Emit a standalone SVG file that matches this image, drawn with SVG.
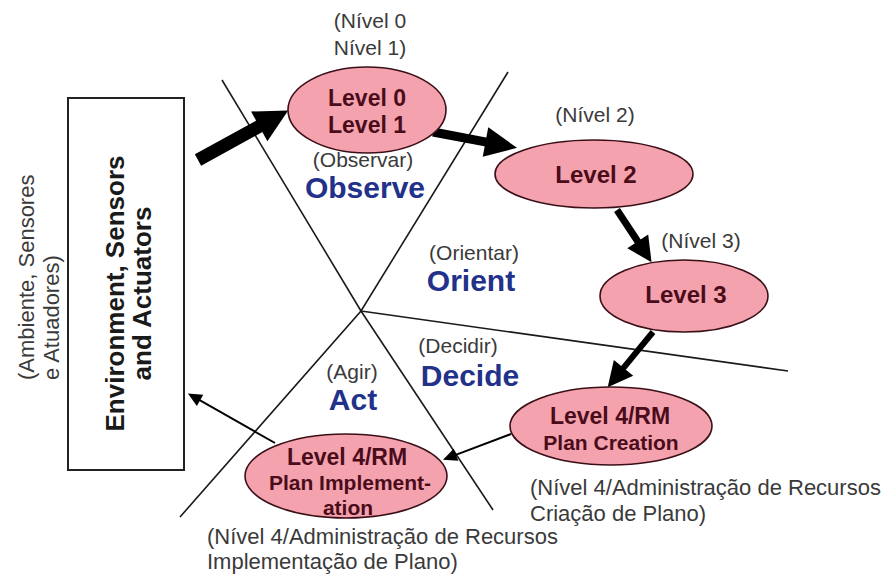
<svg xmlns="http://www.w3.org/2000/svg" width="881" height="577" viewBox="0 0 881 577">
  <style>
    .note { font-family: "Liberation Sans", Arial, sans-serif; font-size: 21px; fill: #3a3a3a; }
    .cap { font-family: "Liberation Sans", Arial, sans-serif; font-size: 22px; fill: #3a3a3a; }
    .phase { font-family: "Liberation Sans", Arial, sans-serif; font-size: 30px; font-weight: bold; fill: #22318a; }
    .node { fill: #f4a2ae; stroke: #3a0f17; stroke-width: 1.6; }
    .lbl { font-family: "Liberation Sans", Arial, sans-serif; font-weight: bold; fill: #4a0c1a; text-anchor: middle; }
    .env { font-family: "Liberation Sans", Arial, sans-serif; font-size: 26px; font-weight: bold; fill: #1a1a1a; text-anchor: middle; }
    .divider { fill: none; stroke: #1a1a1a; stroke-width: 1.6; }
    .flow { fill: none; stroke: #000; stroke-linecap: butt; }
  </style>
  <defs>
    <marker id="head-xl" markerUnits="userSpaceOnUse" markerWidth="40" markerHeight="40" refX="1" refY="0" viewBox="0 -20 40 40" orient="auto" overflow="visible">
      <path d="M0,-17 L33,0 L0,17 Z" fill="#000"/>
    </marker>
    <marker id="head-l" markerUnits="userSpaceOnUse" markerWidth="40" markerHeight="40" refX="1" refY="0" viewBox="0 -20 40 40" orient="auto" overflow="visible">
      <path d="M0,-15 L32,0 L0,15 Z" fill="#000"/>
    </marker>
    <marker id="head-m" markerUnits="userSpaceOnUse" markerWidth="30" markerHeight="30" refX="1" refY="0" viewBox="0 -15 30 30" orient="auto" overflow="visible">
      <path d="M0,-12.5 L25,0 L0,12.5 Z" fill="#000"/>
    </marker>
    <marker id="head-s" markerUnits="userSpaceOnUse" markerWidth="16" markerHeight="16" refX="1" refY="0" viewBox="0 -8 16 16" orient="auto" overflow="visible">
      <path d="M0,-6.5 L14,0 L0,6.5 Z" fill="#000"/>
    </marker>
  </defs>
  <rect width="881" height="577" fill="#fff"/>

  <!-- OODA sector dividers -->
  <g id="dividers">
    <polyline class="divider" points="222,80 361,311 493,510"/>
    <polyline class="divider" points="508,72 361,311 180,517"/>
    <line class="divider" x1="361" y1="311" x2="788" y2="371"/>
  </g>

  <!-- phase names -->
  <g id="phases">
    <text class="note" x="363" y="167" text-anchor="middle">(Observar)</text>
    <text class="phase" x="365" y="198" text-anchor="middle">Observe</text>
    <text class="note" x="474" y="260" text-anchor="middle">(Orientar)</text>
    <text class="phase" x="471" y="291" text-anchor="middle">Orient</text>
    <text class="note" x="458" y="353" text-anchor="middle">(Decidir)</text>
    <text class="phase" x="470" y="386" text-anchor="middle">Decide</text>
    <text class="note" x="352" y="379" text-anchor="middle">(Agir)</text>
    <text class="phase" x="353" y="410" text-anchor="middle">Act</text>
  </g>

  <!-- connectors -->
  <g id="connectors">
    <line class="flow" x1="198" y1="160" x2="260.1" y2="125.9" stroke-width="13" marker-end="url(#head-xl)"/>
    <line class="flow" x1="433" y1="132" x2="486.5" y2="142.1" stroke-width="9" marker-end="url(#head-l)"/>
    <line class="flow" x1="617" y1="210" x2="638.3" y2="242.2" stroke-width="7" marker-end="url(#head-m)"/>
    <line class="flow" x1="653" y1="332" x2="622.9" y2="368.7" stroke-width="6" marker-end="url(#head-m)"/>
    <line class="flow" x1="511" y1="434" x2="455.1" y2="455.1" stroke-width="2" marker-end="url(#head-s)"/>
    <line class="flow" x1="275" y1="443" x2="199.2" y2="399.9" stroke-width="2" marker-end="url(#head-s)"/>
  </g>

  <!-- environment box -->
  <g id="environment">
    <rect x="68" y="98" width="116" height="372" fill="#fff" stroke="#222" stroke-width="2"/>
    <text class="env" transform="translate(124,293.5) rotate(-90)">Environment, Sensors</text>
    <text class="env" transform="translate(151,293.5) rotate(-90)">and Actuators</text>
  </g>
  <g id="environment-pt">
    <text class="cap" transform="translate(34,380) rotate(-90)">(Ambiente, Sensores</text>
    <text class="cap" transform="translate(59,380) rotate(-90)">e Atuadores)</text>
  </g>

  <g id="level01">
    <ellipse class="node" cx="367" cy="110" rx="79" ry="43"/>
    <text class="lbl" x="367" y="106" font-size="23">Level 0</text>
    <text class="lbl" x="367" y="133" font-size="23">Level 1</text>
    <text class="note" x="370" y="28" text-anchor="middle">(Nível 0</text>
    <text class="note" x="370" y="55" text-anchor="middle">Nível 1)</text>
  </g>

  <g id="level2">
    <ellipse class="node" cx="594" cy="174" rx="99" ry="34"/>
    <text class="lbl" x="596" y="183" font-size="24">Level 2</text>
    <text class="note" x="595" y="122" text-anchor="middle">(Nível 2)</text>
  </g>

  <g id="level3">
    <ellipse class="node" cx="684" cy="296" rx="84" ry="36"/>
    <text class="lbl" x="686" y="303" font-size="24">Level 3</text>
    <text class="note" x="701" y="248" text-anchor="middle">(Nível 3)</text>
  </g>

  <g id="plan-creation">
    <ellipse class="node" cx="611" cy="426" rx="101" ry="39"/>
    <text class="lbl" x="610" y="424" font-size="23">Level 4/RM</text>
    <text class="lbl" x="611" y="450" font-size="21">Plan Creation</text>
    <text class="cap" x="530" y="495">(Nível 4/Administração de Recursos</text>
    <text class="cap" x="530" y="521">Criação de Plano)</text>
  </g>

  <g id="plan-implementation">
    <ellipse class="node" cx="346" cy="476" rx="101" ry="42"/>
    <text class="lbl" x="347" y="465" font-size="23">Level 4/RM</text>
    <text class="lbl" x="350" y="490" font-size="21">Plan Implement-</text>
    <text class="lbl" x="348" y="515" font-size="21">ation</text>
    <text class="cap" x="207" y="544">(Nível 4/Administração de Recursos</text>
    <text class="cap" x="207" y="569">Implementação de Plano)</text>
  </g>
</svg>
